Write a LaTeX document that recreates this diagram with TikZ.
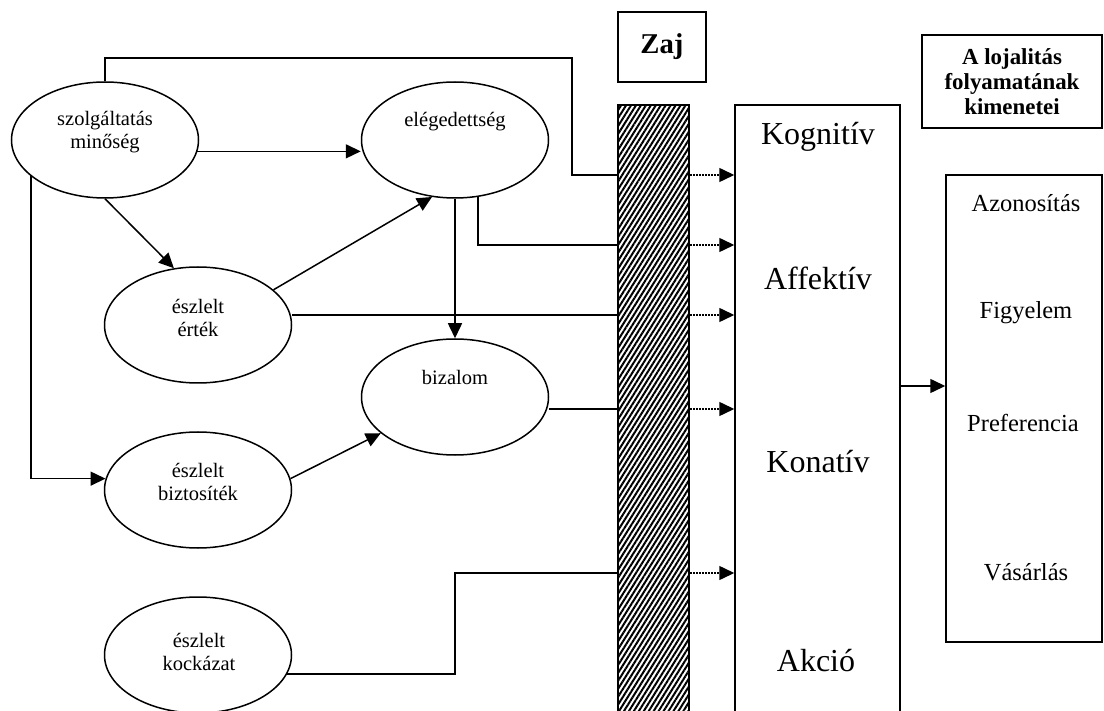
\documentclass[tikz,border=0pt]{standalone}
\usepackage{fontspec}
\setmainfont{Liberation Serif}
\usetikzlibrary{arrows.meta,shapes.geometric,patterns.meta}
\begin{document}
\begin{tikzpicture}[x=1pt,y=-1pt,
  line width=1.5pt,
  ell/.style={ellipse,draw,minimum width=187pt,minimum height=116pt,inner sep=0pt},
  lbl/.style={align=center,inner sep=0pt,font=\fontsize{20.5}{23}\selectfont},
  box/.style={draw,inner sep=0pt},
  dimtxt/.style={inner sep=0pt,font=\fontsize{32}{36}\selectfont},
  outtxt/.style={inner sep=0pt,font=\fontsize{24.5}{28}\selectfont},
  arr/.style={-{Triangle[length=15pt,width=14pt]}},
  dotarr/.style={arr,dash pattern=on 1.5pt off 1.5pt}
]
\useasboundingbox (0,0) rectangle (1104,711);
\fill[white] (0,0) rectangle (1104,711);

% antecedent constructs
\node[ell] (szolg)   at (105,140) {};
\node[ell] (eleg)    at (455,140) {};
\node[ell] (ertek)   at (198,325) {};
\node[ell] (bizalom) at (455,397) {};
\node[ell] (bizt)    at (198,490) {};
\node[ell] (kock)    at (198,655) {};

\node[lbl] (tszolg) at (105,132) {szolgáltatás\\minőség};
\node[lbl] (teleg)  at (455,122) {elégedettség};
\node[lbl] (tertek) at (198,318) {észlelt\\érték};
\node[lbl] (tbiz)   at (455,377) {bizalom};
\node[lbl] (tbizt)  at (198,482) {észlelt\\biztosíték};
\node[lbl] (tkock)  at (199,652) {észlelt\\kockázat};

% noise barrier
\node[box,line width=2pt,minimum width=71pt,minimum height=607pt,
      pattern={Lines[angle=58,distance=4.2pt,line width=2pt]}] (zaj) at (653.5,408.5) {};
\node[box,minimum width=88pt,minimum height=70pt,
      font=\bfseries\fontsize{28.7}{32}\selectfont] (zajlbl) at (662,47) {Zaj};

% loyalty stages
\node[box,minimum width=165pt,minimum height=607pt] (dims) at (817.5,408.5) {};
\node[dimtxt] (kog) at (818,137) {Kognitív};
\node[dimtxt] (aff) at (818,278) {Affektív};
\node[dimtxt] (kon) at (818,462) {Konatív};
\node[dimtxt] (akc) at (816,661) {Akció};

% outcomes
\node[box,minimum width=180pt,minimum height=93pt,align=center,
      font=\bfseries\fontsize{22.9}{25}\selectfont] (lojal) at (1012,81.5)
      {A lojalitás\\folyamatának\\kimenetei};
\node[box,minimum width=156pt,minimum height=467pt] (out) at (1024,408.5) {};
\node[outtxt] (azon) at (1026,203) {Azonosítás};
\node[outtxt] (figy) at (1026,313) {Figyelem};
\node[outtxt] (pref) at (1023,423) {Preferencia};
\node[outtxt] (vas)  at (1026,572) {Vásárlás};

% entry points on the barrier
\coordinate (inKog)  at (zaj.west |- 0,175);
\coordinate (inAff1) at (zaj.west |- 0,245);
\coordinate (inAff2) at (zaj.west |- 0,315);
\coordinate (inKon)  at (zaj.west |- 0,409);
\coordinate (inAkc)  at (zaj.west |- 0,573);
\coordinate (bend)   at (572,58);

% relations between constructs
\draw[arr] (szolg.-7) -- (szolg.-7 -| eleg.west);
\draw[arr] (szolg.south) -- (ertek.113);
\draw[arr] (szolg.206) |- (bizt.173);
\draw[arr] (ertek.25) -- (eleg.248);
\draw[arr] (eleg.south) -- (bizalom.north);
\draw[arr] (bizt.7) -- (bizalom.206);

% links into the barrier
\draw (szolg.north) |- (bend) |- (inKog);
\draw (eleg.-68) |- (inAff1);
\draw (ertek.east |- inAff2) -- (inAff2);
\draw (bizalom.east |- inKon) -- (inKon);
\draw (kock.-12) -| (bizalom.south |- inAkc) -- (inAkc);

% through the barrier
\foreach \c in {inKog,inAff1,inAff2,inKon,inAkc}
  \draw[dotarr] (zaj.east |- \c) -- (dims.west |- \c);

\draw[arr] (dims.east |- 0,386) -- (out.west |- 0,386);
\end{tikzpicture}
\end{document}
